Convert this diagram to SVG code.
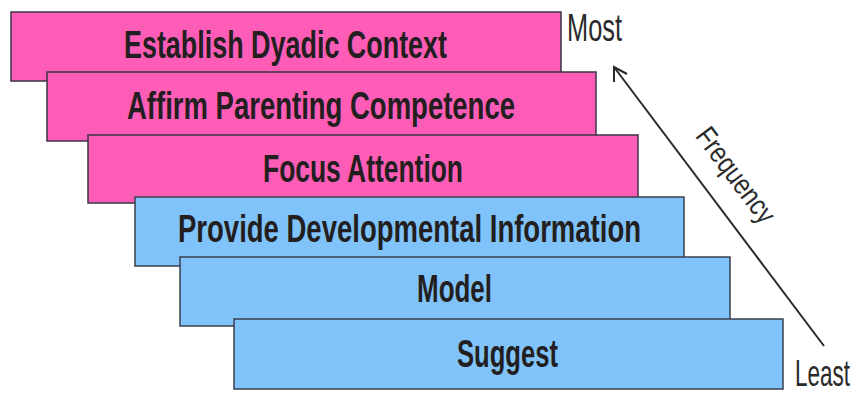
<svg xmlns="http://www.w3.org/2000/svg" width="856" height="393" viewBox="0 0 856 393">
<style>
.pink{fill:#fe5db7;stroke:#3a3446;stroke-width:1.5}
.blue{fill:#80c3fa;stroke:#3a3f4e;stroke-width:1.5}
.lbl{font-family:"Liberation Sans",Arial,sans-serif;font-weight:bold;font-size:38px;fill:#231f20}
.side{font-family:"Liberation Sans",Arial,sans-serif;font-size:39px;fill:#2a2a2a}
.conn{fill:none;stroke:#2a2a2a;stroke-width:2}
</style>
<rect width="856" height="393" fill="#ffffff"/>
<g id="node-establish">
<rect class="pink" x="11" y="12" width="550" height="69"/>
<text class="lbl" x="124" y="58" textLength="323" lengthAdjust="spacingAndGlyphs">Establish Dyadic Context</text>
</g>
<g id="node-affirm">
<rect class="pink" x="47" y="72" width="549" height="69"/>
<text class="lbl" x="127" y="119" textLength="388" lengthAdjust="spacingAndGlyphs">Affirm Parenting Competence</text>
</g>
<g id="node-focus">
<rect class="pink" x="88" y="135" width="550" height="68"/>
<text class="lbl" x="263" y="182" textLength="200" lengthAdjust="spacingAndGlyphs">Focus Attention</text>
</g>
<g id="node-provide">
<rect class="blue" x="135" y="197" width="549" height="69"/>
<text class="lbl" x="178" y="242" textLength="463" lengthAdjust="spacingAndGlyphs">Provide Developmental Information</text>
</g>
<g id="node-model">
<rect class="blue" x="180" y="257" width="550" height="69"/>
<text class="lbl" x="417" y="302" textLength="75" lengthAdjust="spacingAndGlyphs">Model</text>
</g>
<g id="node-suggest">
<rect class="blue" x="234" y="319" width="549" height="70"/>
<text class="lbl" x="457" y="367" textLength="101" lengthAdjust="spacingAndGlyphs">Suggest</text>
</g>
<g id="node-most">
<text class="side" x="567" y="41" textLength="55" lengthAdjust="spacingAndGlyphs">Most</text>
</g>
<g id="node-least">
<text class="side" style="font-size:22.5px" transform="translate(795,386) scale(1,1.65)">Least</text>
</g>
<g id="connectors">
<path class="conn" d="M824,346 L614,67"/>
<path class="conn" d="M627,74 L614,67 L614,82"/>
<text class="side" style="font-size:29px" text-anchor="middle" transform="translate(728,181) rotate(53.13)" textLength="112" lengthAdjust="spacingAndGlyphs">Frequency</text>
</g>
</svg>
